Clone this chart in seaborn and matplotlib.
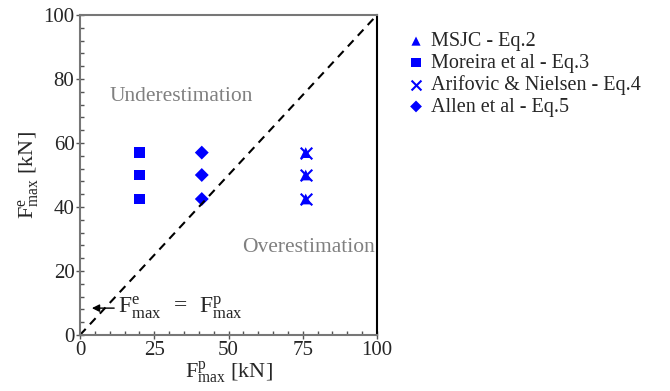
import matplotlib
matplotlib.use("Agg")
import matplotlib.pyplot as plt
import seaborn as sns
import pandas as pd
from matplotlib.ticker import MultipleLocator

sns.set_theme(style="white")
plt.rcParams['font.family'] = 'serif'
plt.rcParams['font.serif'] = ['Liberation Serif', 'DejaVu Serif']
plt.rcParams['mathtext.fontset'] = 'custom'
plt.rcParams['mathtext.rm'] = 'Liberation Serif'
plt.rcParams['mathtext.it'] = 'Liberation Serif:italic'
plt.rcParams['axes.formatter.use_mathtext'] = False

methods = ["MSJC - Eq.2", "Moreira et al - Eq.3", "Arifovic & Nielsen - Eq.4", "Allen et al - Eq.5"]
x_pred = {"MSJC - Eq.2": [76, 76, 76],
          "Moreira et al - Eq.3": [20, 20, 20],
          "Arifovic & Nielsen - Eq.4": [76, 76, 76],
          "Allen et al - Eq.5": [41, 41, 41]}
y_exp = [57, 50, 42.5]

rows = []
for m in methods:
    for xv, yv in zip(x_pred[m], y_exp):
        rows.append({"method": m, "pred": xv, "exp": yv})
df = pd.DataFrame(rows)

markers = {"MSJC - Eq.2": "^", "Moreira et al - Eq.3": "s",
           "Arifovic & Nielsen - Eq.4": "x", "Allen et al - Eq.5": "D"}

fig = plt.figure(figsize=(6.7, 3.91), dpi=100)
ax = fig.add_axes([80/670, 1-335/391, 297/670, 320/391])

for m in methods:
    sub = df[df.method == m]
    mk = markers[m]
    kw = dict(s=60)
    if mk == "x":
        kw.update(linewidth=1.5, s=70)
    else:
        kw.update(edgecolor="none")
    if mk == "D":
        kw["s"] = 50
    sns.scatterplot(data=sub, x="pred", y="exp", marker=mk, color="#0000ff",
                    ax=ax, label=m, **kw)

ax.plot([0, 100], [0, 100], ls=(0, (4, 3)), color="black", lw=1.5)

ax.set_xlim(0, 100)
ax.set_ylim(0, 100)
ax.set_xticks([0, 25, 50, 75, 100])
ax.set_yticks([0, 20, 40, 60, 80, 100])
ax.xaxis.set_minor_locator(MultipleLocator(5))
ax.yaxis.set_minor_locator(MultipleLocator(4))
ax.tick_params(which="major", direction="inout", length=6, width=1, labelsize=15, color="#555555", pad=1)
ax.tick_params(which="minor", direction="in", length=3, width=1, color="#555555")
ax.tick_params(which="both", bottom=True, left=True)
for lbl in ax.get_xticklabels() + ax.get_yticklabels():
    lbl.set_fontfamily('Liberation Serif')

for s in ["left", "bottom", "top"]:
    ax.spines[s].set_color("#777777")
    ax.spines[s].set_linewidth(1.5)
ax.spines["right"].set_color("black")
ax.spines["right"].set_linewidth(1.5)

ax.set_xlabel(r"$\mathregular{F^{p}_{max}}$ [kN]", fontsize=16, labelpad=0, fontfamily='Liberation Serif')
ax.set_ylabel(r"$\mathregular{F^{e}_{max}}$ [kN]", fontsize=16, labelpad=2, fontfamily='Liberation Serif')

ax.text(34, 74.5, "Underestimation", color="#808080", fontsize=15.5, ha="center", va="center")
ax.text(77, 27.5, "Overestimation", color="#808080", fontsize=15.5, ha="center", va="center")

ax.annotate("", xy=(4, 8.4), xytext=(11.5, 8.4),
            arrowprops=dict(arrowstyle="-|>", color="black", lw=1.0, mutation_scale=11,
                            shrinkA=0, shrinkB=0))
ax.text(12.8, 8.4, r"$\mathregular{F^{e}_{max}\;\;=\;\;F^{p}_{max}}$", fontsize=17,
        ha="left", va="center")

leg = ax.legend(loc="upper left", bbox_to_anchor=(1.05, 0.99), frameon=False,
                fontsize=14.5, handletextpad=0.25, labelspacing=0.12, handlelength=1.0,
                borderaxespad=0.3, markerscale=0.85, prop={'family': 'Liberation Serif', 'size': 14.5})

fig.savefig("out.png", dpi=100)
